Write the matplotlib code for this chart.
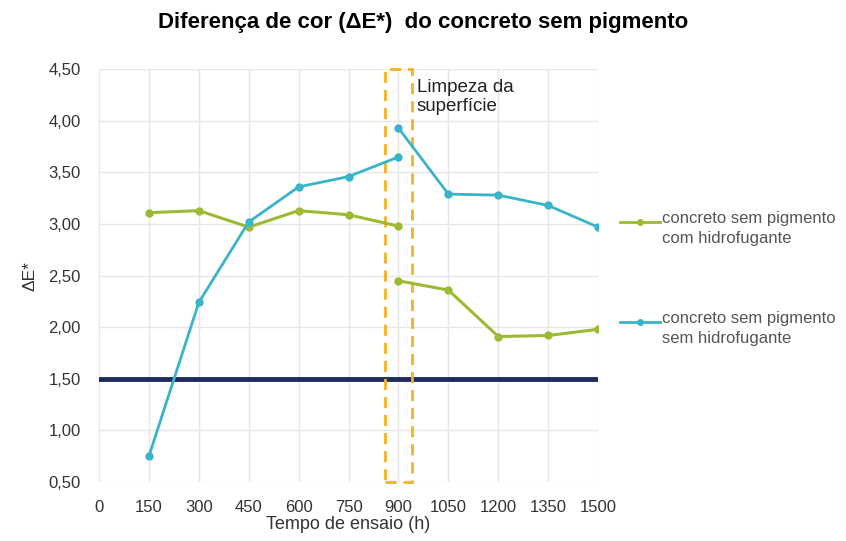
import matplotlib.pyplot as plt
from matplotlib.lines import Line2D
from matplotlib.patches import Rectangle
from matplotlib.ticker import FuncFormatter

plt.rcParams['font.family'] = ['Liberation Sans', 'DejaVu Sans']

# tempos de ensaio (h): antes e depois da limpeza
t_antes = [150, 300, 450, 600, 750, 900]
t_depois = [900, 1050, 1200, 1350, 1500]

com_hidro_antes = [3.11, 3.13, 2.97, 3.13, 3.09, 2.98]
com_hidro_depois = [2.45, 2.36, 1.91, 1.92, 1.98]

sem_hidro_antes = [0.75, 2.24, 3.02, 3.36, 3.46, 3.65]
sem_hidro_depois = [3.93, 3.29, 3.28, 3.18, 2.97]

limite = 1.50
limpeza = (860, 940)

labels = ['concreto sem pigmento\ncom hidrofugante',
          'concreto sem pigmento\nsem hidrofugante']

verde = '#9cba34'
azul = '#3ab4c9'
navy = '#1e2b5e'
laranja = '#f4b223'

W, H = 846, 541
fig = plt.figure(figsize=(W / 100, H / 100), dpi=100)
ax = fig.add_axes([0.117, 0.109, 0.590, 0.763])

ax.axhline(limite, color=navy, lw=3.5, zorder=2)

for x, y in [(t_antes, com_hidro_antes), (t_depois, com_hidro_depois)]:
    ax.plot(x, y, color=verde, lw=2.2, marker='o', ms=5, zorder=4)
for x, y in [(t_antes, sem_hidro_antes), (t_depois, sem_hidro_depois)]:
    ax.plot(x, y, color=azul, lw=2.0, marker='o', ms=5, zorder=4)

rect = Rectangle((limpeza[0], 0.5), limpeza[1] - limpeza[0], 4.0,
                 fill=False, edgecolor=laranja, lw=2, ls=(0, (4, 2.5)),
                 zorder=3, clip_on=False)
ax.add_patch(rect)
ax.text(955, 4.41, 'Limpeza da\nsuperfície', fontsize=13.5, va='top', ha='left',
        color='#222222', linespacing=1.2)

ax.set_xlim(0, 1500)
ax.set_ylim(0.5, 4.5)
ax.set_xticks(range(0, 1501, 150))
ax.set_yticks([0.5 + 0.5 * i for i in range(9)])
ax.yaxis.set_major_formatter(FuncFormatter(lambda v, p: f'{v:.2f}'.replace('.', ',')))
ax.grid(True, color='#e6e6e6', lw=1)
ax.set_axisbelow(True)
for s in ax.spines.values():
    s.set_visible(False)
ax.tick_params(length=0, labelsize=12, colors='#333333')
ax.tick_params(axis='x', pad=13)
ax.tick_params(axis='y', pad=13)

ax.set_xlabel('Tempo de ensaio (h)', fontsize=13, color='#333333', labelpad=1)
ax.set_ylabel('ΔE*', fontsize=12.5, color='#333333', labelpad=8)

fig.text(0.5, 0.958, 'Diferença de cor (ΔE*)  do concreto sem pigmento',
         ha='center', va='center', fontsize=16, fontweight='bold')

# legenda desenhada à mão: marcador alinhado com a primeira linha do texto
for cor, lab, ypx in [(verde, labels[0], 222), (azul, labels[1], 322)]:
    yf = 1 - ypx / H
    fig.add_artist(Line2D([620 / W, 660 / W], [yf, yf], color=cor, lw=2))
    fig.add_artist(Line2D([640 / W], [yf], color=cor, marker='o', ms=4))
    fig.text(662 / W, yf + 11 / H, lab, fontsize=12, color='#555555', va='top',
             ha='left', linespacing=1.4, transform=fig.transFigure)

fig.savefig('out.png', dpi=100)
